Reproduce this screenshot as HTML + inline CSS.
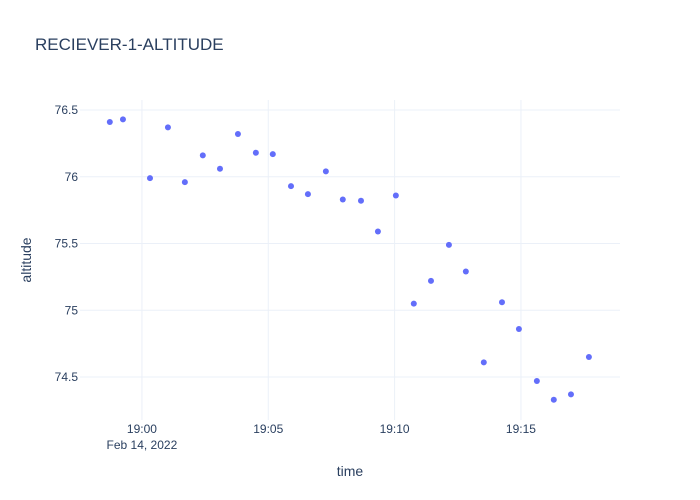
<!DOCTYPE html>
<html><head><meta charset="utf-8"><style>
body{margin:0;background:#fff;}
svg{display:block;font-family:"Liberation Sans",Arial,sans-serif;}
</style></head><body>
<svg id="chart" width="700" height="500" viewBox="0 0 700 500">
<rect width="700" height="500" fill="#fff"/>
<text x="35" y="50" font-size="17" fill="#2a3f5f">RECIEVER-1-ALTITUDE</text>
<g id="grid"></g>
<g id="ticks"></g>
<g id="points"></g>
<text x="350" y="476" font-size="14" fill="#2a3f5f" text-anchor="middle">time</text>
<text transform="translate(31,260) rotate(-90)" font-size="14" fill="#2a3f5f" text-anchor="middle">altitude</text>
</svg>
<script>
const timeMinutes=[-1.27,-0.75,0.32,1.03,1.70,2.41,3.09,3.80,4.51,5.18,5.90,6.57,7.28,7.95,8.67,9.34,10.05,10.76,11.44,12.15,12.82,13.53,14.25,14.92,15.63,16.30,16.98,17.69];
const altitude=[76.41,76.43,75.99,76.37,75.96,76.16,76.06,76.32,76.18,76.17,75.93,75.87,76.04,75.83,75.82,75.59,75.86,75.05,75.22,75.49,75.29,74.61,75.06,74.86,74.47,74.33,74.37,74.65];
const xTickValues=[0,5,10,15];
const xTickLabels=["19:00","19:05","19:10","19:15"];
const yTickValues=[74.5,75,75.5,76,76.5];
const yTickLabels=["74.5","75","75.5","76","76.5"];
const X0=80,X1=620,Y0=100,Y1=420;
const xMin=-2.45,xMax=18.92,yMin=74.178,yMax=76.575;
function xs(v){return X0+(v-xMin)/(xMax-xMin)*(X1-X0);}
function ys(v){return Y1-(v-yMin)/(yMax-yMin)*(Y1-Y0);}
const NS="http://www.w3.org/2000/svg";
function mk(tag,attrs,parent,txt){const e=document.createElementNS(NS,tag);for(const k in attrs)e.setAttribute(k,attrs[k]);if(txt!==undefined)e.textContent=txt;parent.appendChild(e);return e;}
const grid=document.getElementById('grid'),ticks=document.getElementById('ticks'),pts=document.getElementById('points');
xTickValues.forEach((v,i)=>{
  const l=mk('line',{x1:xs(v),x2:xs(v),y1:Y0,y2:Y1,stroke:'#ebf0f8','stroke-width':1},grid);
  
  
  const t=mk('text',{x:xs(v),y:433,'font-size':12,fill:'#2a3f5f','text-anchor':'middle'},ticks,xTickLabels[i]);
  
  
});
const d=mk('text',{x:xs(0),y:449,'font-size':12,fill:'#2a3f5f','text-anchor':'middle'},ticks,'Feb 14, 2022');


yTickValues.forEach((v,i)=>{
  const l=mk('line',{x1:X0,x2:X1,y1:ys(v),y2:ys(v),stroke:'#ebf0f8','stroke-width':1},grid);
  
  
  const t=mk('text',{x:78,y:ys(v)+4,'font-size':12,fill:'#2a3f5f','text-anchor':'end'},ticks,yTickLabels[i]);
  
  
});
timeMinutes.forEach((t,i)=>{
  const c=mk('circle',{cx:xs(t),cy:ys(altitude[i]),r:3,fill:'#636efa'},pts);
  
  
});
</script>
</body></html>
